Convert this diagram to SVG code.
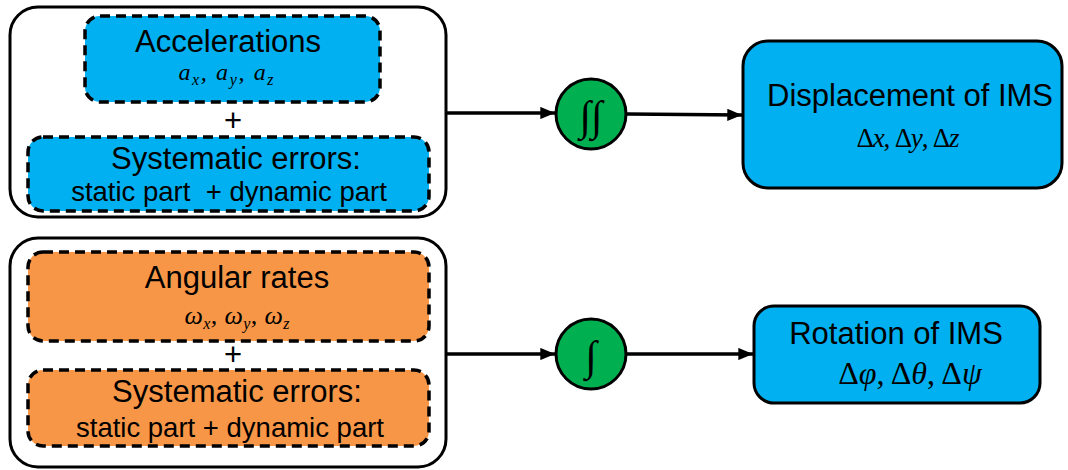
<svg xmlns="http://www.w3.org/2000/svg" width="1068" height="470" viewBox="0 0 1068 470">
<defs>
<marker id="ah" viewBox="0 0 12 10" refX="12" refY="5" markerWidth="4.2" markerHeight="3.5" markerUnits="strokeWidth" orient="auto">
<path d="M0,0 L12,5 L0,10 z" fill="#000"/>
</marker>
<style>
.outer{fill:#fff;stroke:#000;stroke-width:3}
.dash{stroke:#000;stroke-width:3.5;stroke-dasharray:10 6}
.blue{fill:#00B0F0}
.orange{fill:#F79646}
.solid{stroke:#000;stroke-width:3}
.circ{fill:#00B050;stroke:#000;stroke-width:3}
.t{font-family:"Liberation Sans",Arial,sans-serif;fill:#000;text-anchor:middle;font-size:31px}
.s{font-size:27.5px}
.m{font-family:"Liberation Serif","Times New Roman",serif;fill:#000;text-anchor:middle}
.conn{stroke:#000;stroke-width:3.5;fill:none;marker-end:url(#ah)}
</style>
</defs>
<rect width="1068" height="470" fill="#fff"/>

<g id="group-accel">
<rect class="outer" x="10" y="7" width="436" height="210" rx="28"/>
<g id="accelerations">
<rect class="blue dash" x="85" y="16" width="295" height="86" rx="15"/>
<text class="t" x="228" y="52">Accelerations</text>
<text class="m" x="226" y="80" font-size="24" font-style="italic" textLength="95" lengthAdjust="spacing">a<tspan font-size="16" dy="5">x</tspan><tspan dy="-5">, a</tspan><tspan font-size="16" dy="5">y</tspan><tspan dy="-5">, a</tspan><tspan font-size="16" dy="5">z</tspan></text>
</g>
<text class="t" x="233" y="131">+</text>
<g id="accel-errors">
<rect class="blue dash" x="28" y="137" width="401" height="74" rx="15"/>
<text class="t" x="236" y="169">Systematic errors:</text>
<text class="t s" x="229" y="201" xml:space="preserve">static part  + dynamic part</text>
</g>
</g>

<g id="group-gyro">
<rect class="outer" x="10" y="238" width="436" height="229" rx="28"/>
<g id="angular-rates">
<rect class="orange dash" x="28" y="252" width="401" height="89" rx="15"/>
<text class="t" x="237" y="288">Angular rates</text>
<text class="m" x="237" y="324" font-size="26" font-style="italic" textLength="105" lengthAdjust="spacing">ω<tspan font-size="16" dy="5">x</tspan><tspan dy="-5">, ω</tspan><tspan font-size="16" dy="5">y</tspan><tspan dy="-5">, ω</tspan><tspan font-size="16" dy="5">z</tspan></text>
</g>
<text class="t" x="233" y="365">+</text>
<g id="gyro-errors">
<rect class="orange dash" x="28" y="370" width="401" height="76" rx="15"/>
<text class="t" x="237" y="402">Systematic errors:</text>
<text class="t s" x="230" y="437">static part + dynamic part</text>
</g>
</g>

<g id="double-integral">
<circle class="circ" cx="591" cy="114" r="35"/>
<text class="m" x="591" y="130" font-size="42" font-style="italic">∫∫</text>
</g>
<g id="single-integral">
<circle class="circ" cx="591" cy="354" r="35"/>
<text class="m" x="591" y="370" font-size="42" font-style="italic">∫</text>
</g>

<g id="displacement">
<rect class="blue solid" x="743" y="41" width="319" height="147" rx="25"/>
<text class="t" x="910" y="106">Displacement of IMS</text>
<text class="m" x="908" y="147" font-size="27" textLength="103" lengthAdjust="spacing">Δ<tspan font-style="italic">x</tspan>, Δ<tspan font-style="italic">y</tspan>, Δ<tspan font-style="italic">z</tspan></text>
</g>
<g id="rotation">
<rect class="blue solid" x="754" y="306" width="286" height="97" rx="20"/>
<text class="t" x="896" y="344">Rotation of IMS</text>
<text class="m" x="910" y="384" font-size="32">Δ<tspan font-style="italic">φ</tspan>, Δ<tspan font-style="italic">θ</tspan>, Δ<tspan font-style="italic">ψ</tspan></text>
</g>

<g id="connectors">
<line class="conn" x1="446" y1="113" x2="555" y2="113"/>
<line class="conn" x1="627" y1="114" x2="742" y2="115"/>
<line class="conn" x1="446" y1="354" x2="555" y2="354"/>
<line class="conn" x1="627" y1="354" x2="753" y2="354"/>
</g>
</svg>
